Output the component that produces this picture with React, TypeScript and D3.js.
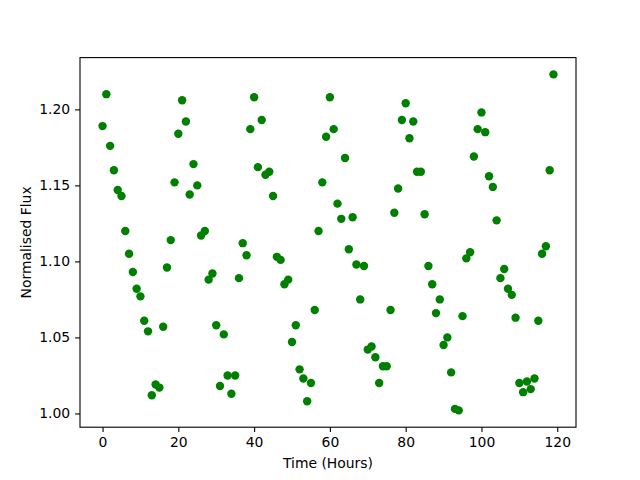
import React from 'react';
import * as d3 from 'd3';

// Hourly normalised flux readings, hours 0..119
const hours: number[] = Array.from({ length: 120 }, (_, i) => i);

const flux: number[] = [
  1.189, 1.210, 1.176, 1.160, 1.147, 1.143, 1.120, 1.105, 1.093, 1.082,
  1.077, 1.061, 1.054, 1.012, 1.019, 1.017, 1.057, 1.096, 1.114, 1.152,
  1.184, 1.206, 1.192, 1.144, 1.164, 1.150, 1.117, 1.120, 1.088, 1.092,
  1.058, 1.018, 1.052, 1.025, 1.013, 1.025, 1.089, 1.112, 1.104, 1.187,
  1.208, 1.162, 1.193, 1.157, 1.159, 1.143, 1.103, 1.101, 1.085, 1.088,
  1.047, 1.058, 1.029, 1.023, 1.008, 1.020, 1.068, 1.120, 1.152, 1.182,
  1.208, 1.187, 1.138, 1.128, 1.168, 1.108, 1.129, 1.098, 1.075, 1.097,
  1.042, 1.044, 1.037, 1.020, 1.031, 1.031, 1.068, 1.132, 1.148, 1.193,
  1.204, 1.181, 1.192, 1.159, 1.159, 1.131, 1.097, 1.085, 1.066, 1.075,
  1.045, 1.050, 1.027, 1.003, 1.002, 1.064, 1.102, 1.106, 1.169, 1.187,
  1.198, 1.185, 1.156, 1.149, 1.127, 1.089, 1.095, 1.082, 1.078, 1.063,
  1.020, 1.014, 1.021, 1.016, 1.023, 1.061, 1.105, 1.110, 1.160, 1.223,
];

const xTicks = [0, 20, 40, 60, 80, 100, 120];
const yTicks = [1.0, 1.05, 1.1, 1.15, 1.2];

const width = 640;
const height = 480;

const FluxScatter: React.FC = () => {
  const svgRef = React.useRef<SVGSVGElement>(null);

  React.useEffect(() => {
    if (!svgRef.current) return;
    d3.select(svgRef.current).selectAll('*').remove();

    const svg = d3.select(svgRef.current);
    const margin = { top: 57.6, right: 64, bottom: 52.8, left: 80 };
    const chartWidth = width - margin.left - margin.right;
    const chartHeight = height - margin.top - margin.bottom;
    const font = 'DejaVu Sans, sans-serif';

    // matplotlib-style 5% padding on the data range
    const [x0, x1] = d3.extent(hours) as [number, number];
    const [y0, y1] = d3.extent(flux) as [number, number];
    const px = (x1 - x0) * 0.05;
    const py = (y1 - y0) * 0.05;

    const x = d3.scaleLinear().domain([x0 - px, x1 + px]).range([0, chartWidth]);
    const y = d3.scaleLinear().domain([y0 - py, y1 + py]).range([chartHeight, 0]);

    const g = svg.append('g')
      .attr('transform', `translate(${margin.left},${margin.top})`);

    // Points
    g.append('g')
      .selectAll('circle')
      .data(hours)
      .enter().append('circle')
      .attr('cx', d => x(d))
      .attr('cy', (d, i) => y(flux[i]))
      .attr('r', 4.2)
      .attr('fill', '#008000');

    // X axis
    const xAxis = g.append('g')
      .attr('transform', `translate(0,${chartHeight})`)
      .call(d3.axisBottom(x).tickValues(xTicks).tickSize(4.9).tickPadding(4.9).tickFormat(d3.format('d')));

    // Y axis
    const yAxis = g.append('g')
      .call(d3.axisLeft(y).tickValues(yTicks).tickSize(4.9).tickPadding(4.9).tickFormat(d3.format('.2f')));

    [xAxis, yAxis].forEach(a => {
      a.select('.domain').remove();
      a.selectAll('line').attr('stroke', '#000').attr('stroke-width', 1.1);
      a.selectAll('text')
        .attr('font-family', font)
        .attr('font-size', 13.9)
        .attr('fill', '#000');
    });

    // Frame
    g.append('rect')
      .attr('x', 0)
      .attr('y', 0)
      .attr('width', chartWidth)
      .attr('height', chartHeight)
      .attr('fill', 'none')
      .attr('stroke', '#000')
      .attr('stroke-width', 1.1);

    // Axis labels
    svg.append('text')
      .attr('x', margin.left + chartWidth / 2)
      .attr('y', 468)
      .attr('text-anchor', 'middle')
      .attr('font-family', font)
      .attr('font-size', 13.9)
      .text('Time (Hours)');

    svg.append('text')
      .attr('transform', `translate(31,${margin.top + chartHeight / 2}) rotate(-90)`)
      .attr('text-anchor', 'middle')
      .attr('font-family', font)
      .attr('font-size', 13.9)
      .text('Normalised Flux');
  }, []);

  return (
    <svg
      ref={svgRef}
      width={width}
      height={height}
      style={{ position: 'absolute', left: 0, top: 0, background: '#fff' }}
    />
  );
};

export default function App() {
  return <FluxScatter />;
}
